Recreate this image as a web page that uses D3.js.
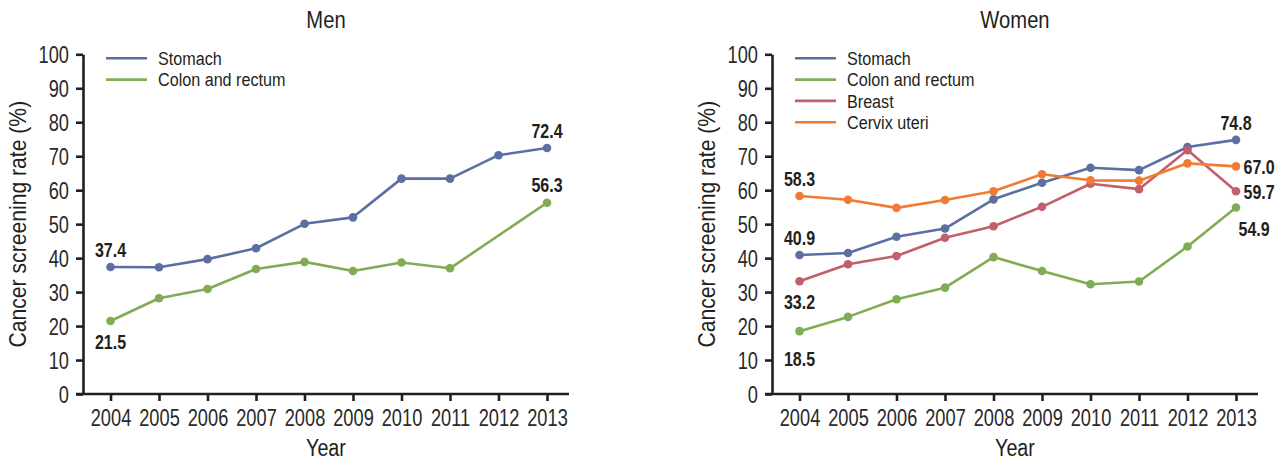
<!DOCTYPE html>
<html>
<head>
<meta charset="utf-8">
<script src="https://cdn.jsdelivr.net/npm/d3@7/dist/d3.min.js"></script>
<style>
  html, body { margin: 0; padding: 0; background: #fff; }
  svg text { font-family: "Liberation Sans", Arial, sans-serif; fill: #231f20; }
</style>
</head>
<body>
<svg id="chart" width="1287" height="460"></svg>
<script>
// Screening rates (%) by year, 2004–2013
const years = [2004, 2005, 2006, 2007, 2008, 2009, 2010, 2011, 2012, 2013];
const yTicks = [0, 10, 20, 30, 40, 50, 60, 70, 80, 90, 100];

const menStomach = [37.4, 37.3, 39.7, 42.9, 50.1, 52.0, 63.4, 63.4, 70.3, 72.4];
const menColon   = [21.5, 28.2, 30.9, 36.8, 38.9, 36.2, 38.7, 37.0, null, 56.3];

const womenStomach = [40.9, 41.5, 46.3, 48.7, 57.3, 62.2, 66.6, 65.9, 72.7, 74.8];
const womenColon   = [18.5, 22.7, 27.9, 31.3, 40.3, 36.2, 32.3, 33.1, 43.4, 54.9];
const womenBreast  = [33.2, 38.2, 40.6, 46.0, 49.4, 55.1, 61.9, 60.3, 71.8, 59.7];
const womenCervix  = [58.3, 57.2, 54.8, 57.1, 59.7, 64.7, 62.9, 62.8, 67.9, 67.0];

const colors = {
  "Stomach": "#5b6fa1",
  "Colon and rectum": "#80ac55",
  "Breast": "#c1606b",
  "Cervix uteri": "#f37a32"
};

const panels = [
  {
    title: "Men", left: 83,
    series: [
      { name: "Stomach", values: menStomach, labels: [[0, "above"], [9, "above"]] },
      { name: "Colon and rectum", values: menColon, labels: [[0, "below"], [9, "above"]] }
    ]
  },
  {
    title: "Women", left: 772,
    series: [
      { name: "Stomach", values: womenStomach, labels: [[0, "above"], [9, "above"]] },
      { name: "Colon and rectum", values: womenColon, labels: [[0, "below2"], [9, "belowRight"]] },
      { name: "Breast", values: womenBreast, labels: [[0, "below"], [9, "right"]] },
      { name: "Cervix uteri", values: womenCervix, labels: [[0, "above"], [9, "right"]] }
    ]
  }
];

// Narrow the type horizontally to get a condensed face
function condense(sel, sx) {
  sel.each(function () {
    const t = d3.select(this);
    const x = +(t.attr("x") || 0);
    const prev = t.attr("transform") || "";
    t.attr("x", x / sx).attr("transform", `${prev} scale(${sx},1)`.trim());
  });
}

const svg = d3.select("#chart");
const plotW = 486, plotTop = 54.3, plotBottom = 394;

panels.forEach(p => {
  const g = svg.append("g").attr("transform", `translate(${p.left},0)`);

  const x = d3.scalePoint().domain(years).range([27.5, 464]);
  const y = d3.scaleLinear().domain([0, 100]).range([plotBottom, plotTop]);

  // Y axis
  const yAxis = g.append("g")
    .call(d3.axisLeft(y).tickValues(yTicks).tickSize(7).tickPadding(7).tickSizeOuter(0));
  // X axis
  const xAxis = g.append("g").attr("transform", `translate(0,${plotBottom})`)
    .call(d3.axisBottom(x).tickSize(7).tickPadding(8).tickSizeOuter(0));
  xAxis.select(".domain").attr("d", `M-7,0H${plotW}`);

  [yAxis, xAxis].forEach(a => {
    a.selectAll(".domain").attr("stroke", "#231f20").attr("stroke-width", 2.6);
    a.selectAll(".tick line").attr("stroke", "#231f20").attr("stroke-width", 2.6);
    a.selectAll(".tick text").attr("font-size", 24).attr("font-family", null)
      .style("fill", "#2a2a2a");
    condense(a.selectAll(".tick text"), 0.76);
  });
  yAxis.selectAll(".tick text").attr("dy", "0.36em");
  xAxis.selectAll(".tick text").attr("dy", "0.72em");

  // Titles
  condense(g.append("text").attr("x", plotW / 2).attr("y", 28)
    .attr("text-anchor", "middle").attr("font-size", 23.5).text(p.title), 0.86);
  condense(g.append("text").attr("x", plotW / 2).attr("y", 456)
    .attr("text-anchor", "middle").attr("font-size", 23.5).text("Year"), 0.84);
  condense(g.append("text")
    .attr("transform", `translate(-57,${(plotTop + plotBottom) / 2}) rotate(-90)`)
    .attr("text-anchor", "middle").attr("font-size", 23.5).text("Cancer screening rate (%)"), 0.9);

  // Legend
  const lg = g.append("g").attr("transform", "translate(23,58.3)");
  p.series.forEach((s, i) => {
    const row = lg.append("g").attr("transform", `translate(0,${i * 21.3})`);
    row.append("line").attr("x1", 0).attr("x2", 41).attr("y1", 0).attr("y2", 0)
      .attr("stroke", colors[s.name]).attr("stroke-width", 2.6);
    condense(row.append("text").attr("x", 52).attr("y", 0).attr("dy", "0.36em")
      .attr("font-size", 19).text(s.name), 0.85);
  });

  // Lines and points
  const line = d3.line().x(d => x(d.year)).y(d => y(d.value));
  p.series.forEach(s => {
    const pts = years.map((yr, i) => ({ year: yr, value: s.values[i] }))
      .filter(d => d.value !== null);
    g.append("path").datum(pts)
      .attr("fill", "none").attr("stroke", colors[s.name])
      .attr("stroke-width", 2.6).attr("stroke-linejoin", "round")
      .attr("d", line);
    g.selectAll(null).data(pts).enter().append("circle")
      .attr("cx", d => x(d.year)).attr("cy", d => y(d.value))
      .attr("r", 4.3).attr("fill", colors[s.name]);
  });

  // Value labels at the start and end years
  const offsets = {
    above: { dx: 0, dy: -17.5, anchor: "middle" },
    below: { dx: 0, dy: 21, anchor: "middle" },
    below2: { dx: 0, dy: 28, anchor: "middle" },
    right: { dx: 7.5, dy: 0.5, anchor: "start" },
    belowRight: { dx: 2.5, dy: 21, anchor: "start" }
  };
  p.series.forEach(s => {
    s.labels.forEach(([i, pos]) => {
      const o = offsets[pos];
      condense(g.append("text")
        .attr("x", x(years[i]) + o.dx).attr("y", y(s.values[i]) + o.dy)
        .attr("dy", "0.36em").attr("text-anchor", o.anchor)
        .attr("font-size", 20).attr("font-weight", 700)
        .style("fill", "#231f20")
        .text(s.values[i].toFixed(1)), 0.8);
    });
  });
});
</script>
</body>
</html>
